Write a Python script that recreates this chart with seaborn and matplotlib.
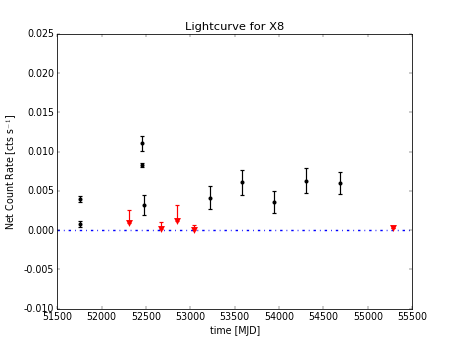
import numpy as np
import pandas as pd
import seaborn as sns
from matplotlib import pyplot as plt

# detections (MJD, net count rate, 1-sigma error)
det_mjd = [51753, 51753, 52455, 52455, 52477, 53217, 53585, 53941, 54306, 54681]
det_rate = [0.0040, 0.00080, 0.01104, 0.0083, 0.00323, 0.00412, 0.00607, 0.00357, 0.00629, 0.0060]
det_err = [0.0004, 0.0004, 0.0009, 0.0003, 0.0013, 0.00144, 0.0016, 0.00144, 0.0016, 0.00144]

# upper limits (MJD, rate, upward extent)
ul_mjd = [52309, 52673, 52853, 53041, 55289]
ul_rate = [0.00094, 0.00014, 0.0012, 0.0000, 0.00027]
ul_err = [0.0016, 0.0009, 0.0020, 0.00065, 0.0]

plt.style.use('classic')
plt.rcParams['axes.unicode_minus'] = True
plt.rcParams['lines.scale_dashes'] = False

df_det = pd.DataFrame({'mjd': det_mjd, 'rate': det_rate, 'err': det_err})
df_ul = pd.DataFrame({'mjd': ul_mjd, 'rate': ul_rate, 'err': ul_err})

fig, ax = plt.subplots(figsize=(8, 6), dpi=57.25)
fig.patch.set_facecolor('white')

ax.errorbar(df_det['mjd'], df_det['rate'], yerr=df_det['err'], fmt='none',
            ecolor='k', elinewidth=1.5, capsize=3, capthick=1.5)
sns.scatterplot(data=df_det, x='mjd', y='rate', ax=ax, color='k', marker='o',
                s=26, edgecolor='k', linewidth=0, zorder=3)

ax.errorbar(df_ul['mjd'], df_ul['rate'], yerr=[np.zeros(len(df_ul)), df_ul['err']],
            fmt='none', ecolor='r', elinewidth=1.5, capsize=3, capthick=1.5)
sns.scatterplot(data=df_ul, x='mjd', y='rate', ax=ax, color='r', marker='v',
                s=75, edgecolor='r', linewidth=0, zorder=3)

ax.axhline(0, color='b', linestyle=(0, (3, 5, 1, 5)), linewidth=1.8)

ax.set_xlim(51500, 55500)
ax.set_ylim(-0.010, 0.025)
ax.set_xticks(np.arange(51500, 55501, 500))
ax.set_yticks(np.arange(-0.010, 0.0251, 0.005))
ax.yaxis.set_major_formatter(plt.FormatStrFormatter('%.3f'))
ax.set_xlabel('time [MJD]')
ax.set_ylabel('Net Count Rate [cts s$^{-1}$]')
ax.set_title('Lightcurve for X8')

plt.savefig('out.png', dpi=57.25, facecolor='white')
